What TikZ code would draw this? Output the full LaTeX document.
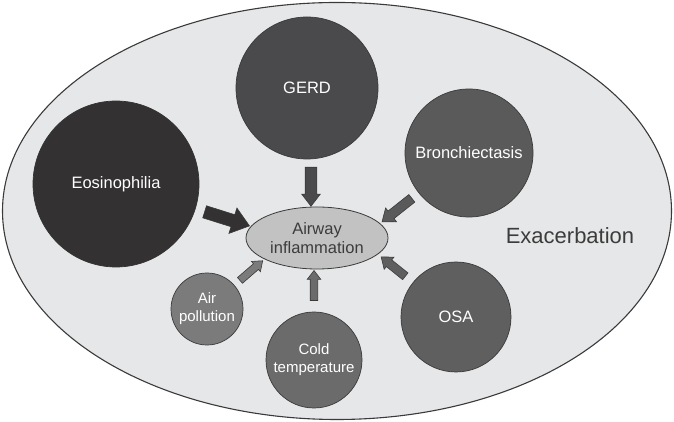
\documentclass[tikz,border=0pt]{standalone}
\usepackage{fontspec}
\setmainfont{Liberation Sans}
\usetikzlibrary{shapes.geometric,shapes.arrows}

\definecolor{paleGray}{HTML}{E6E7E8}
\definecolor{rimGray}{HTML}{3A3A3A}
\definecolor{inkGray}{HTML}{3C3C3C}
\definecolor{eosGray}{HTML}{333132}
\definecolor{gerdGray}{HTML}{4A494B}
\definecolor{bronGray}{HTML}{5A5A5B}
\definecolor{osaGray}{HTML}{5F5F60}
\definecolor{coldGray}{HTML}{6B6B6C}
\definecolor{airGray}{HTML}{7B7B7C}
\definecolor{coreGray}{HTML}{C2C2C3}

\tikzset{
  factor/.style={circle,draw=rimGray,line width=0.7pt,inner sep=0pt,
    text=white,align=center,font=\fontsize{16.5}{18.5}\selectfont},
  smallfactor/.style={factor,font=\fontsize{15}{18}\selectfont},
  push/.style n args={4}{single arrow,draw=rimGray,line width=0.6pt,fill=#1,
    inner xsep=0pt,inner ysep=#3/2,sloped,allow upside down,
    minimum height=#2,minimum width=#4,
    single arrow head extend=(#4-#3)/2,single arrow head indent=0pt,
    single arrow tip angle=75}
}

\begin{document}
\begin{tikzpicture}[x=1pt,y=1pt]
  \useasboundingbox (0,0) rectangle (674,422);
  \node[ellipse,fill=paleGray,draw=rimGray,line width=1.1pt,
    minimum width=669pt,minimum height=417pt] (exac) at (337,211) {};
  \node[font=\fontsize{22}{26}\selectfont,text=inkGray] (exaclabel) at (570,186) {Exacerbation};

  \node[ellipse,fill=coreGray,draw=rimGray,line width=0.8pt,inner sep=0pt,
    minimum width=142pt,minimum height=62pt,text=inkGray,align=center,
    font=\fontsize{16.5}{18.5}\selectfont] (airway) at (317,184) {Airway\\inflammation};

  \node[factor,fill=eosGray,draw=eosGray,minimum size=166pt] (eos) at (116,238) {Eosinophilia};
  \node[factor,fill=gerdGray,minimum size=142pt] (gerd) at (307,334) {GERD};
  \node[factor,fill=bronGray,minimum size=128pt] (bron) at (469,269) {Bronchiectasis};
  \node[factor,fill=osaGray,minimum size=110pt] (osa) at (456,105) {OSA};
  \node[smallfactor,fill=coldGray,minimum size=96pt] (cold) at (314,62) {Cold\\temperature};
  \node[smallfactor,fill=airGray,minimum size=72pt] (air) at (207,113) {Air\\pollution};

  \path (eos) -- node[push={eosGray}{47}{12}{26}] {} (airway.170);
  \path ([xshift=4pt]gerd.south) -- node[push={gerdGray}{39}{11}{18}] {} ([xshift=4pt]gerd.south |- airway.north);
  \path (bron) -- node[push={bronGray}{38}{9}{17}] {} (airway.13);
  \path (osa) -- node[push={osaGray}{31}{8}{15}] {} (airway.345);
  \path (cold) -- node[pos=0.56,push={coldGray}{30}{7}{13}] {} (cold |- airway.south);
  \path (air) -- node[push={airGray}{30}{7}{13}] {} (airway.202);
\end{tikzpicture}
\end{document}
